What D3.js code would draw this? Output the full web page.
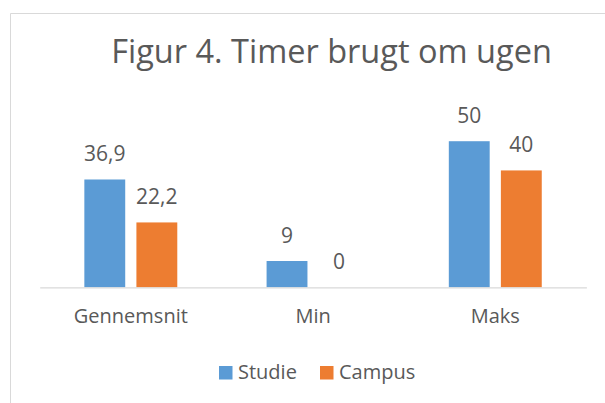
<!DOCTYPE html>
<html>
<head>
<meta charset="utf-8">
<script src="https://cdn.jsdelivr.net/npm/d3@7"></script>
<style>
  body { margin: 0; background: #fff; }
  text { font-family: "Open Sans", sans-serif; fill: #595959; }
</style>
</head>
<body>
<script>
// data
const categories = ["Gennemsnit", "Min", "Maks"];
const seriesNames = ["Studie", "Campus"];
const studie = [36.9, 9, 50];
const campus = [22.2, 0, 40];
const valueLabels = [["36,9", "9", "50"], ["22,2", "0", "40"]];
const colors = ["#5B9BD5", "#ED7D31"];

const canvWidth = 605, canvHeight = 403;
const svg = d3.select("body").append("svg")
    .attr("width", canvWidth)
    .attr("height", canvHeight);

// chart border (only top and left visible in the crop)
svg.append("path")
    .attr("d", "M10.5," + canvHeight + "V13.5H" + canvWidth)
    .attr("fill", "none")
    .attr("stroke", "#d9d9d9")
    .attr("stroke-width", 1);

svg.append("text")
    .attr("x", 331.5)
    .attr("y", 63)
    .attr("font-size", "32.5px")
    .style("text-anchor", "middle")
    .text("Figur 4. Timer brugt om ugen");

const plot = {left: 39.7, right: 586.4, top: 112, bottom: 287.3};

const x0 = d3.scaleBand()
    .domain(categories)
    .range([plot.left, plot.right])
    .paddingInner(0.49)
    .paddingOuter(0.245);

const x1 = d3.scaleBand()
    .domain(seriesNames)
    .range([0, x0.bandwidth()])
    .paddingInner(0.215);

const y = d3.scaleLinear()
    .domain([0, 60])
    .range([plot.bottom, plot.top]);

const rows = [];
categories.forEach((c, i) => {
    rows.push({cat: c, s: 0, v: studie[i], label: valueLabels[0][i]});
    rows.push({cat: c, s: 1, v: campus[i], label: valueLabels[1][i]});
});

const g = svg.append("g");

g.selectAll("rect.bar")
    .data(rows)
    .join("rect")
    .attr("class", "bar")
    .attr("x", d => x0(d.cat) + x1(seriesNames[d.s]))
    .attr("y", d => y(d.v))
    .attr("width", x1.bandwidth())
    .attr("height", d => y(0) - y(d.v))
    .attr("fill", d => colors[d.s]);

g.selectAll("text.val")
    .data(rows)
    .join("text")
    .attr("class", "val")
    .attr("x", d => x0(d.cat) + x1(seriesNames[d.s]) + x1.bandwidth() / 2)
    .attr("y", d => y(d.v) - 18)
    .attr("font-size", "21px")
    .style("text-anchor", "middle")
    .text(d => d.label);

// category axis
const xAxis = d3.axisBottom(x0).tickSize(0).tickPadding(22);
const ax = svg.append("g")
    .attr("transform", "translate(0," + plot.bottom + ")")
    .call(xAxis);
ax.select(".domain").attr("stroke", "#d9d9d9").attr("stroke-width", 1.3);
ax.selectAll("text")
    .attr("font-size", "20px")
    .attr("font-family", "'Open Sans', sans-serif")
    .attr("fill", "#595959");

// legend
const legend = svg.append("g").attr("transform", "translate(219,366)");
const legendX = [0, 101];
const item = legend.selectAll("g")
    .data(seriesNames)
    .join("g")
    .attr("transform", (d, i) => "translate(" + legendX[i] + ",0)");
item.append("rect")
    .attr("width", 13.5)
    .attr("height", 13.5)
    .attr("fill", (d, i) => colors[i]);
item.append("text")
    .attr("x", 19)
    .attr("y", 13.3)
    .attr("font-size", "20px")
    .text(d => d);
</script>
</body>
</html>
